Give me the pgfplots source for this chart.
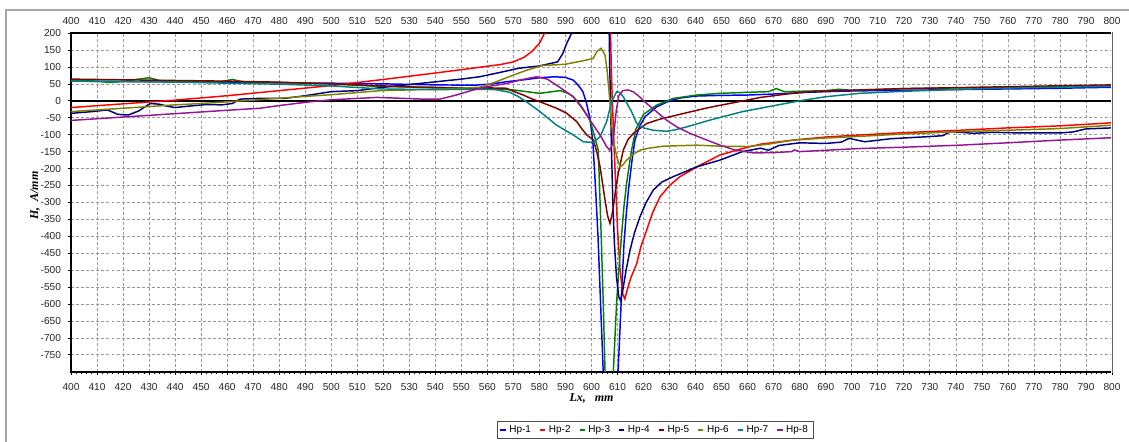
\documentclass[border=0pt]{standalone}
\usepackage{fontspec}
\setmainfont{Liberation Sans}
\newfontfamily\seriffont{Liberation Serif}
\usepackage{pgfplots}
\pgfplotsset{compat=1.18}

\definecolor{hp1}{RGB}{0,0,255}
\definecolor{hp2}{RGB}{255,0,0}
\definecolor{hp3}{RGB}{0,128,0}
\definecolor{hp4}{RGB}{0,0,128}
\definecolor{hp5}{RGB}{128,0,0}
\definecolor{hp6}{RGB}{128,128,0}
\definecolor{hp7}{RGB}{0,128,128}
\definecolor{hp8}{RGB}{150,20,150}

\pgfplotsset{
  frame/.style={
    scale only axis, width=780.75pt, height=254pt,
    xmin=400, xmax=800, ymin=-800, ymax=200,
    xtick={400,410,...,800},
    ytick={-750,-700,...,200},
    /pgf/number format/assume math mode=true,
    /pgf/number format/1000 sep={},
    tick label style={font=\fontsize{7.6}{9}\selectfont, black!85},
  },
}

\begin{document}
\begin{tikzpicture}
% top tick labels
\begin{axis}[frame,
    xticklabel pos=right, xtick pos=right,
    ytick=\empty, axis line style={draw=none},
    major tick length=0pt,
    xticklabel style={yshift=3pt},
]
\end{axis}

\begin{axis}[frame, name=ax,
    xtick pos=left, ytick pos=left,
    tick align=outside,
    major tick length=2.5pt, minor tick length=1.8pt,
    minor x tick num=4,
    tick style={black, line width=0.5pt},
    xticklabel style={yshift=-3pt},
    yticklabel style={xshift=-1.5pt},
    grid=major,
    major grid style={dash pattern=on 2.2pt off 1.6pt, black!40, line width=0.5pt},
    extra y ticks={0}, extra y tick labels={},
    extra y tick style={grid=major, major grid style={solid, black, line width=1.4pt}, major tick length=0pt},
    axis line style={line width=1.4pt, black},
    every axis x label/.style={at={(axis description cs:0.5,-0.078)}, anchor=center},
    every axis y label/.style={at={(axis description cs:-0.0346,0.52)}, rotate=90, anchor=center},
    xlabel={\seriffont\bfseries\itshape\fontsize{9}{10}\selectfont Lx,~~~mm},
    ylabel={\seriffont\bfseries\itshape\fontsize{9}{10}\selectfont H,~~A/mm},
    legend columns=8,
    legend style={at={(axis description cs:0.561,-0.172)}, anchor=center,
      draw=black!70, line width=0.5pt, font=\fontsize{7.5}{9}\selectfont,
      inner xsep=2pt, inner ysep=1pt,
      /tikz/every even column/.append style={column sep=4pt}},
    legend image code/.code={\draw[#1, line width=1.4pt] (0pt,0pt) -- (4pt,0pt);},
    every axis plot/.append style={line width=1.1pt},
]
% Hp-1
\addplot[hp1] coordinates {
(400,58) (420,57) (440,56) (460,55) (480,53) (500,52) (520,50) (540,47) (555,46)
(562,50) (567,56) (575,63) (580,68) (586,71) (590,69) (593,61) (595,45) (596.7,27)
(598,-5) (599.4,-51) (600.5,-120) (601.5,-250) (602.5,-400) (603.5,-600) (604.5,-800)
(605,-850) (609.5,-850) (610.2,-800) (610.8,-700) (611.6,-560) (612.5,-420)
(613.3,-340) (614.2,-264) (615.5,-180) (616.7,-116) (618.5,-75) (620.6,-47)
(625,-18) (630,0) (634,8) (640,14) (650,16) (660,17) (670,20) (680,24) (690,27)
(700,29) (720,31) (740,33) (760,35) (780,37) (800,40)
};
% Hp-2
\addplot[hp2] coordinates {
(400,-20) (420,-9) (440,2) (460,15) (480,30) (500,45) (520,63) (540,82) (555,97)
(565,107) (570,115) (574,128) (577,145) (580,170) (582,200) (584,240) (600,500)
(606,500) (607.2,250) (607.6,100) (608,0) (608.6,-120) (609.3,-250) (610,-380)
(611,-500) (612,-570) (612.8,-585) (613.5,-565) (615,-525) (617.4,-480) (619,-430)
(621.2,-382) (623.5,-330) (626.3,-284) (630,-250) (634,-224) (641.7,-190)
(649.4,-160) (658,-141) (665,-128) (677.5,-116) (690,-107) (703,-101) (720,-94)
(741.6,-87) (760,-80) (780,-74) (800,-65)
};
% Hp-3
\addplot[hp3] coordinates {
(400,62) (410,58) (415,54) (420,57) (425,63) (430,68) (434,60) (440,56) (450,55)
(458,57) (462,63) (466,56) (480,54) (500,50) (519,42) (540,40) (560,36) (570,32)
(580,22) (584,26) (588,30) (591,22) (593,12) (596.9,-27) (599.4,-57) (601,-100)
(602.6,-146) (603.3,-300) (603.9,-441) (604.6,-620) (605.2,-800) (605.5,-850)
(608,-850) (608.4,-800) (609,-700) (609.7,-589) (610.6,-490) (611.6,-392)
(612.5,-310) (613.5,-244) (614.5,-190) (615.4,-146) (617,-85) (620,-40) (625,-13)
(631.4,7) (640.4,17) (649.4,22) (660,25) (668,27) (671,36) (674,27) (680,28)
(690,30) (695,34) (700,31) (720,36) (740,38) (760,40) (780,43) (800,45)
};
% Hp-4
\addplot[hp4] coordinates {
(400,-37) (408,-32) (414,-27) (418,-40) (422,-42) (426,-30) (430.4,-8) (434,-10)
(437,-16) (440,-20) (445,-16) (452,-11) (458,-12) (462,-8) (465,5) (472,7) (482,7)
(490,15) (500,27) (510,30) (520,40) (530,48) (540,56) (550,64) (557,71) (565,84)
(572,96) (580,103) (587,115) (589,140) (590.5,170) (592.4,200) (594,240) (600,400)
(606.5,400) (606.8,200) (607,100) (607.3,0) (607.7,-150) (608.2,-300) (608.8,-420)
(609.6,-520) (610.5,-580) (611.2,-590) (612,-560) (613.3,-500) (614.8,-441)
(616.5,-390) (618.6,-343) (621,-300) (623.7,-264) (627,-240) (631.4,-224)
(640.4,-195) (649.4,-175) (658,-150) (665,-140) (668,-146) (672,-132) (680,-124)
(690,-126) (696,-122) (699,-111) (705,-121) (715,-112) (729,-106) (735,-103)
(738,-91) (747,-96) (754,-93) (765,-95) (780,-95) (785,-92) (790,-83) (800,-80)
};
% Hp-5
\addplot[hp5] coordinates {
(400,64) (420,62) (440,60) (460,58) (480,55) (500,50) (520,44) (540,38) (561,38)
(567.4,37) (570,28) (573.8,17) (577,6) (580.2,-3) (586.6,-22) (590.5,-37)
(594.4,-62) (596,-80) (598.2,-101) (600.7,-116) (602,-150) (603.3,-195)
(605.2,-293) (606.2,-340) (607.1,-362) (607.8,-340) (608.4,-313) (609.3,-260)
(610.3,-214) (612.2,-146) (614,-115) (616.1,-96) (621.2,-67) (626,-55) (635,-38)
(645,-20) (655,-5) (665,10) (675,20) (683.9,27) (703,32) (720,36) (741.6,39)
(770,43) (800,47)
};
% Hp-6
\addplot[hp6] coordinates {
(400,-32) (420,-22) (440,-12) (450,-8) (470,2) (488,12) (500,18) (519,30) (540,34)
(557,40) (563,55) (570,76) (575,90) (581,104) (590,108) (596,117) (600.7,125)
(602,145) (603.7,155) (605.2,135) (606,90) (606.5,46) (607.1,-3) (607.7,-67)
(608.4,-116) (609.7,-165) (611,-195) (612,-190) (613.5,-175) (616,-158)
(618.6,-146) (622,-140) (627.6,-134) (640.4,-131) (649.4,-134) (660,-135)
(668,-128) (677.5,-116) (690,-110) (703,-105) (720,-98) (741.6,-91) (760,-87)
(780,-82) (800,-72)
};
% Hp-7
\addplot[hp7] coordinates {
(400,58) (420,57) (440,55) (460,52) (480,49) (500,44) (519,35) (540,33) (557,34)
(563,33) (568.7,25) (572,12) (575,-3) (580.2,-32) (586.6,-72) (593,-101)
(596.9,-121) (600.7,-123) (603.3,-106) (605.8,-62) (607.7,-3) (609.7,27) (611,24)
(612.2,12) (615.4,-32) (617.4,-67) (620,-80) (623.7,-87) (628.8,-90) (632,-86)
(636.6,-77) (645.5,-57) (658,-32) (671,-13) (680,0) (690,12) (703,22) (720,28)
(741.6,34) (770,39) (800,43)
};
% Hp-8
\addplot[hp8] coordinates {
(400,-58) (420,-48) (440,-38) (460,-28) (472.6,-22) (480,-14) (491.8,-3) (500,3)
(517.5,10) (535,5) (541.8,5) (548,17) (554.6,32) (560,42) (567.4,51) (573,62)
(578.9,71) (583,64) (586.6,46) (590,28) (593,12) (596,-15) (598.2,-42) (600.7,-72)
(603.3,-101) (605.8,-135) (607,-146) (608,-130) (608.7,-90) (609.5,-30) (610.5,15)
(612,30) (614,32) (616,27) (618,15) (621.2,-8) (625,-32) (628.8,-57) (633,-78)
(637.8,-96) (643,-112) (649.4,-131) (655,-145) (662.2,-154) (670,-153) (677,-150)
(678,-145) (680,-150) (690,-146) (703,-141) (720,-137) (741.6,-131) (760,-124)
(780,-116) (800,-109)
};
\legend{Hp-1,Hp-2,Hp-3,Hp-4,Hp-5,Hp-6,Hp-7,Hp-8}
\end{axis}
% right side of the plot area is a thin grey line
\draw[white, line width=1.6pt] ([yshift=-0.7pt]ax.south east) -- ([yshift=0.7pt]ax.north east);
\draw[black!60, line width=0.6pt] ([yshift=-0.7pt]ax.south east) -- ([yshift=0.7pt]ax.north east);
% outer frame of the chart
\draw[black!35, line width=1.1pt] ([shift={(-48.75pt,-60pt)}]ax.south west) -- ([shift={(-48.75pt,271.3pt)}]ax.south west) -- ([shift={(800pt,271.3pt)}]ax.south west);
\pgfresetboundingbox
\path[use as bounding box] ([shift={(-53.25pt,-52pt)}]ax.south west) rectangle ([shift={(793.5pt,278.8pt)}]ax.south west);
\end{tikzpicture}
\end{document}
